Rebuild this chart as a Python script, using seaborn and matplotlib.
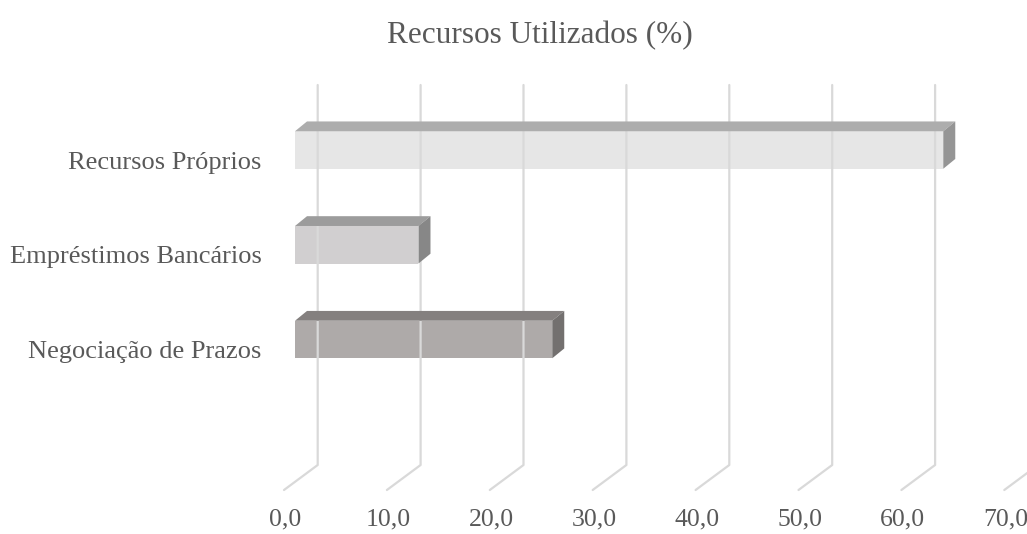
import matplotlib
matplotlib.use("Agg")
import matplotlib.pyplot as plt
import seaborn as sns
import pandas as pd
import numpy as np
from matplotlib.transforms import ScaledTranslation, IdentityTransform
from matplotlib.patches import Polygon
from matplotlib.lines import Line2D

# ---- data ----
categories = ["Recursos Próprios", "Empréstimos Bancários", "Negociação de Prazos"]
values = [63.0, 12.0, 25.0]
x_ticks = [0, 10, 20, 30, 40, 50, 60, 70]
x_tick_labels = ["0,0", "10,0", "20,0", "30,0", "40,0", "50,0", "60,0", "70,0"]
title = "Recursos Utilizados (%)"

front_colors = ["#e6e6e6", "#d1cfd0", "#aeaaa9"]
top_colors = ["#adadad", "#9c9c9c", "#84807f"]
side_colors = ["#959595", "#878787", "#73706f"]

sns.set_theme(style="white")
plt.rcParams["font.family"] = ["Liberation Serif", "DejaVu Serif"]
TXT = "#595959"
GRID = "#d9d9d9"

W, H, DPI = 1027, 534, 100
fig = plt.figure(figsize=(W / DPI, H / DPI), dpi=DPI)

# axes in pixel geometry (front plane of bars)
px_per_unit = 10.29
x0_px = 295.0
ax_left = x0_px / W
ax_width = 70 * px_per_unit / W
top_px, bot_px = 85.0, 490.0
ax = fig.add_axes([ax_left, 1 - bot_px / H, ax_width, (bot_px - top_px) / H])

df = pd.DataFrame({"recurso": categories, "valor": values})
sns.barplot(data=df, x="valor", y="recurso", hue="recurso", palette=front_colors,
            order=categories, hue_order=categories, legend=False, width=0.396,
            saturation=1, orient="h", ax=ax, zorder=3, edgecolor="none", linewidth=0)

# category spacing in pixels: 94.75, first centre at 150 px
step = 94.75
c0 = 150.0
ax.set_ylim(2 + (bot_px - 339.5) / step, -(c0 - top_px) / step)
ax.set_xlim(0, 70)
for s in ax.spines.values():
    s.set_visible(False)
ax.set_xlabel("")
ax.set_ylabel("")
ax.grid(False)

# ---- 3D gridlines (back wall + floor) ----
fig.canvas.draw()
back_dx = 22.7          # back wall offset from bar front plane
front_dx = -11.0        # floor front offset
floor_y = 465.0         # pixel (from top) where wall meets floor
for v in x_ticks:
    xd, _ = ax.transData.transform((v, 0))
    xb = xd + back_dx
    xf = xd + front_dx
    yt = H - top_px
    yw = H - floor_y
    yf = H - bot_px
    ln = Line2D([xb, xb, xf], [yt, yw, yf], color=GRID, lw=1.6,
                transform=IdentityTransform(), zorder=1, clip_on=False)
    fig.add_artist(ln)

# ---- 3D faces of the bars ----
ddx, ddy = 12.0, 9.8
for p in ax.patches:
    x, y, w, h = p.get_x(), p.get_y(), p.get_width(), p.get_height()
    idx = int(round(y + h / 2))
    (L, T) = ax.transData.transform((x, y))
    (R, B) = ax.transData.transform((x + w, y + h))
    top = max(T, B); bot = min(T, B)
    top_face = Polygon([(L, top), (R, top), (R + ddx, top + ddy), (L + ddx, top + ddy)],
                       closed=True, facecolor=top_colors[idx], edgecolor="none",
                       transform=IdentityTransform(), zorder=4)
    side_face = Polygon([(R, top), (R + ddx, top + ddy), (R + ddx, bot + ddy), (R, bot)],
                        closed=True, facecolor=side_colors[idx], edgecolor="none",
                        transform=IdentityTransform(), zorder=4)
    fig.add_artist(top_face)
    fig.add_artist(side_face)
    p.set_zorder(5)

# ---- tick labels ----
ax.set_xticks(x_ticks)
ax.set_xticklabels(x_tick_labels)
ax.tick_params(axis="x", length=0, pad=13, labelsize=18.5, labelcolor=TXT)
for lab in ax.get_xticklabels():
    lab.set_transform(lab.get_transform() + ScaledTranslation((front_dx + 1.5) / DPI, 0, fig.dpi_scale_trans))

ax.set_yticks(range(len(categories)))
ax.set_yticklabels(categories)
ax.tick_params(axis="y", length=0, pad=24, labelsize=19, labelcolor=TXT)
for lab in ax.get_yticklabels():
    lab.set_transform(lab.get_transform() + ScaledTranslation(0, -10 / DPI, fig.dpi_scale_trans))

fig.text(539.5 / W, 1 - 36 / H, title, ha="center", va="center", fontsize=22.5, color=TXT)

fig.savefig("out.png", dpi=DPI, facecolor="white")
